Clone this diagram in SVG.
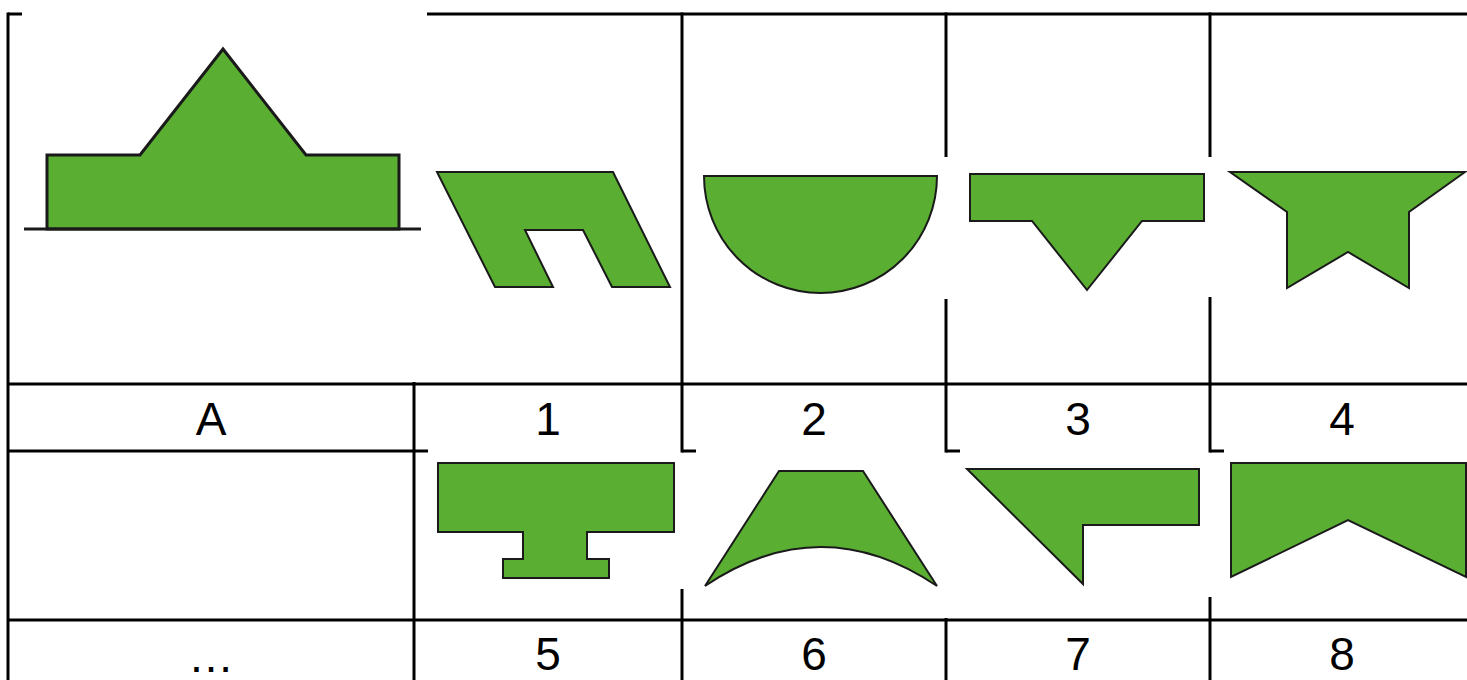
<svg xmlns="http://www.w3.org/2000/svg" width="1467" height="680" viewBox="0 0 1467 680">
<style>
.grid line{stroke:#000;stroke-width:3;fill:none}
.shape{fill:#5aaf32;stroke:#1a1a1a;stroke-width:2;stroke-linejoin:miter}
.lbl{font-family:"Liberation Sans",Arial,sans-serif;font-size:46px;fill:#000;text-anchor:middle}
</style>
<rect width="1467" height="680" fill="#fff"/>
<g id="connectors" class="grid">
<line x1="8" y1="14" x2="22" y2="14"/>
<line x1="427" y1="14" x2="1467" y2="14"/>
<line x1="8" y1="384" x2="1467" y2="384"/>
<line x1="8" y1="451" x2="428" y2="451"/>
<line x1="682" y1="451" x2="696" y2="451"/>
<line x1="946" y1="451" x2="960" y2="451"/>
<line x1="1210" y1="451" x2="1224" y2="451"/>
<line x1="8" y1="620" x2="1467" y2="620"/>
<line x1="8" y1="12.5" x2="8" y2="680"/>
<line x1="414" y1="382" x2="414" y2="680"/>
<line x1="682" y1="12.5" x2="682" y2="452.5"/>
<line x1="682" y1="589" x2="682" y2="680"/>
<line x1="946" y1="12.5" x2="946" y2="157"/>
<line x1="946" y1="299" x2="946" y2="452.5"/>
<line x1="946" y1="618" x2="946" y2="680"/>
<line x1="1210" y1="12.5" x2="1210" y2="157"/>
<line x1="1210" y1="297" x2="1210" y2="452.5"/>
<line x1="1210" y1="597" x2="1210" y2="680"/>
</g>
<g id="nodeA">
<polygon class="shape" style="stroke-width:3" points="47,229 47,155 140,155 223,49 306,155 399,155 399,229"/>
<line x1="24" y1="229" x2="421" y2="229" stroke="#1a1a1a" stroke-width="3"/>
<text class="lbl" x="211" y="435">A</text>
</g>
<g id="node1">
<polygon class="shape" points="437,172 613,172 670,287 612,287 583,230 525,230 553,287 495,287"/>
<text class="lbl" x="548" y="435">1</text>
</g>
<g id="node2">
<path class="shape" d="M704,176 L937,176 A116.5,117 0 0 1 704,176 Z"/>
<text class="lbl" x="814" y="435">2</text>
</g>
<g id="node3">
<polygon class="shape" points="970,174 1204,174 1204,221 1142,221 1087,290 1032,221 970,221"/>
<text class="lbl" x="1078" y="435">3</text>
</g>
<g id="node4">
<polygon class="shape" points="1230,172 1465,172 1409,212 1409,288 1348,252 1287,288 1287,212"/>
<text class="lbl" x="1342" y="435">4</text>
</g>
<g id="nodeEllipsis">
<text class="lbl" x="211" y="672">…</text>
</g>
<g id="node5">
<polygon class="shape" points="438,463 674,463 674,532 587,532 587,559 609,559 609,578 503,578 503,559 523,559 523,532 438,532"/>
<text class="lbl" x="548" y="670">5</text>
</g>
<g id="node6">
<path class="shape" d="M779,471 L863,471 L937,586 Q821,508 705,586 Z"/>
<text class="lbl" x="814" y="670">6</text>
</g>
<g id="node7">
<polygon class="shape" points="967,469 1199,469 1199,525 1083,525 1083,584"/>
<text class="lbl" x="1078" y="670">7</text>
</g>
<g id="node8">
<polygon class="shape" points="1231,463 1466,463 1466,577 1348,520 1231,577"/>
<text class="lbl" x="1342" y="670">8</text>
</g>
</svg>
